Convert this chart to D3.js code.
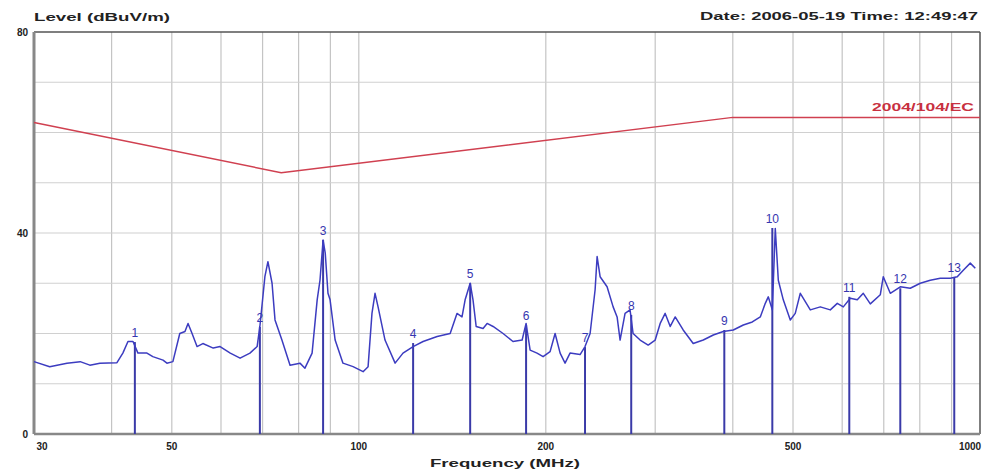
<!DOCTYPE html>
<html><head><meta charset="utf-8">
<script src="https://cdn.jsdelivr.net/npm/d3@7"></script>
<style>html,body{margin:0;padding:0;background:#fff;}svg{display:block;}</style>
</head><body>
<svg id="c" width="992" height="475"></svg>
<script>
// ---- data ----
const xTickLabels = [30, 50, 100, 200, 500, 1000];
const yTickLabels = [0, 40, 80];
const limitFreq = [30, 75, 400, 1000];
const limitLevel = [62, 52, 63, 63];
const traceFreq = [30.0,31.8,33.9,35.6,36.9,38.3,40.8,41.7,42.5,43.3,44.1,45.6,46.6,48.4,49.1,50.2,51.5,52.5,53.1,53.9,54.9,56.1,58.3,59.8,62.1,64.4,66.8,68.6,69.3,70.6,71.4,72.5,73.3,75.2,77.5,80.4,81.9,84.1,85.7,86.6,87.6,88.3,89.2,89.9,91.6,94.3,97.9,101.6,103.5,105.0,106.2,107.4,110.2,114.4,117.8,122.3,126.9,133.7,140.3,143.9,146.6,148.3,151.1,152.7,154.5,158.5,160.9,164.5,170.7,177.1,183.2,185.9,188.7,193.6,198.0,203.2,207.0,210.9,214.8,218.8,227.1,231.3,235.7,240.1,241.9,244.6,251.0,256.7,260.5,263.4,268.3,273.3,276.4,283.7,292.3,300.0,305.6,311.3,317.2,323.1,332.8,345.4,358.5,372.1,386.1,400.7,415.9,430.0,442.9,451.2,456.2,463.1,468.2,473.5,482.3,495.0,504.2,513.7,533.1,553.2,574.1,589.2,602.5,618.3,634.5,648.8,665.9,691.0,698.7,717.1,744.2,772.2,801.4,831.6,863.0,895.6,919.2,939.9,964.6,982.7];
const traceLevel = [14.4,13.4,14.1,14.4,13.7,14.1,14.2,16.1,18.4,18.4,16.1,16.1,15.4,14.7,14.1,14.4,20.0,20.4,22.0,20.0,17.4,18.0,17.1,17.4,16.1,15.1,16.1,17.4,21.4,31.3,34.3,30.0,22.7,18.7,13.7,14.1,13.1,16.1,26.7,30.6,38.6,36.0,28.0,26.7,18.7,14.1,13.4,12.4,13.4,24.0,28.0,25.3,18.7,14.1,16.1,17.4,18.4,19.4,20.0,24.0,23.3,26.7,30.0,26.7,21.4,21.0,22.0,21.4,20.0,18.4,18.7,22.0,16.7,16.1,15.4,16.4,20.0,16.1,14.1,16.1,15.8,17.4,20.0,28.7,35.3,31.3,29.3,25.3,23.3,18.7,24.0,24.7,20.0,18.7,17.7,18.7,22.0,24.0,21.4,23.3,20.7,18.0,18.7,19.7,20.4,20.7,21.7,22.3,23.3,26.0,27.3,24.7,40.9,30.6,26.7,22.7,24.0,28.0,24.7,25.3,24.7,26.0,25.3,27.0,26.7,28.0,25.9,27.7,31.3,28.0,29.3,29.0,30.0,30.6,31.0,31.0,31.3,32.6,34.0,33.0,34.3];
const markerFreq = [43.6, 69.3, 87.6, 122.3, 151.1, 185.9, 231.3, 274.5, 387.6, 463.1, 616.0, 744.2, 909.0];
const markerLevel = [18.3, 21.3, 38.6, 18.1, 30.0, 21.7, 17.3, 23.7, 20.7, 41.0, 27.3, 29.0, 31.2];
const markerLabel = ["1","2","3","4","5","6","7","8","9","10","11","12","13"];

// ---- layout ----
const L = 34, R = 980, T = 32, B = 434;
const svg = d3.select("#c");
const x = d3.scaleLog().domain([30, 1000]).range([L, R]);
const y = d3.scaleLinear().domain([0, 80]).range([B, T]);
const font = "'Liberation Sans', Arial, sans-serif";

// grid
const xGrid = [40,50,60,70,80,90,100,200,300,400,500,600,700,800,900];
svg.append("g").selectAll("line").data(xGrid).join("line")
  .attr("x1", d => x(d)).attr("x2", d => x(d)).attr("y1", T).attr("y2", B)
  .attr("stroke", "#c4c4c4").attr("stroke-width", 1.2);
svg.append("g").selectAll("line").data(d3.range(10, 80, 10)).join("line")
  .attr("x1", L).attr("x2", R).attr("y1", d => y(d)).attr("y2", d => y(d))
  .attr("stroke", "#d0d0d0").attr("stroke-width", 1.2);

// frame
svg.append("line").attr("x1", L).attr("x2", R).attr("y1", T).attr("y2", T).attr("stroke", "#555").attr("stroke-width", 1.5);
svg.append("line").attr("x1", R).attr("x2", R).attr("y1", T).attr("y2", B).attr("stroke", "#555").attr("stroke-width", 1.5);
svg.append("line").attr("x1", L).attr("x2", R).attr("y1", B).attr("y2", B).attr("stroke", "#888").attr("stroke-width", 2.5);
svg.append("line").attr("x1", L).attr("x2", L).attr("y1", T).attr("y2", B).attr("stroke", "#888").attr("stroke-width", 3);

// limit line
const line = d3.line().x(d => x(d[0])).y(d => y(d[1]));
svg.append("path").datum(d3.zip(limitFreq, limitLevel)).attr("d", line)
  .attr("fill", "none").attr("stroke", "#d04050").attr("stroke-width", 1.4);
svg.append("text").attr("x", R - 6).attr("y", y(63) - 6).attr("text-anchor", "end")
  .attr("font-family", font).attr("font-weight", "bold").attr("font-size", 10)
  .attr("fill", "#c83040").attr("textLength", 102).attr("lengthAdjust", "spacingAndGlyphs").text("2004/104/EC");

// markers
svg.append("g").selectAll("line").data(d3.zip(markerFreq, markerLevel)).join("line")
  .attr("x1", d => x(d[0])).attr("x2", d => x(d[0])).attr("y1", B).attr("y2", d => y(d[1]))
  .attr("stroke", "#3a3aa8").attr("stroke-width", 2);

// trace
svg.append("path").datum(d3.zip(traceFreq, traceLevel)).attr("d", line)
  .attr("fill", "none").attr("stroke", "#3c3cc0").attr("stroke-width", 1.5).attr("stroke-linejoin", "round");

svg.append("g").selectAll("text").data(d3.zip(markerFreq, markerLevel, markerLabel)).join("text")
  .attr("x", d => x(d[0])).attr("y", d => y(d[1]) - 5).attr("text-anchor", "middle")
  .attr("font-family", font).attr("font-size", 12).attr("fill", "#3636b0").text(d => d[2]);

// tick labels
svg.append("g").selectAll("text").data(yTickLabels).join("text")
  .attr("x", L - 6).attr("y", d => y(d) + 4).attr("text-anchor", "end")
  .attr("font-family", font).attr("font-weight", "bold").attr("font-size", 10).attr("fill", "#222")
  .text(d => d);
svg.append("g").selectAll("text").data(xTickLabels).join("text")
  .attr("x", (d, i) => x(d) + (i === 0 ? 8 : i === xTickLabels.length - 1 ? -10 : 0))
  .attr("y", B + 16).attr("text-anchor", "middle")
  .attr("font-family", font).attr("font-weight", "bold").attr("font-size", 10).attr("fill", "#222")
  .text(d => d);

// titles
svg.append("text").attr("x", 34).attr("y", 21).attr("font-family", font).attr("font-weight", "bold")
  .attr("font-size", 10).attr("fill", "#222").attr("textLength", 136).attr("lengthAdjust", "spacingAndGlyphs")
  .text("Level (dBuV/m)");
svg.append("text").attr("x", 978).attr("y", 20).attr("text-anchor", "end").attr("font-family", font).attr("font-weight", "bold")
  .attr("font-size", 10).attr("fill", "#222").attr("textLength", 278).attr("lengthAdjust", "spacingAndGlyphs")
  .text("Date: 2006-05-19  Time: 12:49:47");
svg.append("text").attr("x", 505).attr("y", 467).attr("text-anchor", "middle").attr("font-family", font).attr("font-weight", "bold")
  .attr("font-size", 10).attr("fill", "#222").attr("textLength", 150).attr("lengthAdjust", "spacingAndGlyphs")
  .text("Frequency (MHz)");
</script>
</body></html>
